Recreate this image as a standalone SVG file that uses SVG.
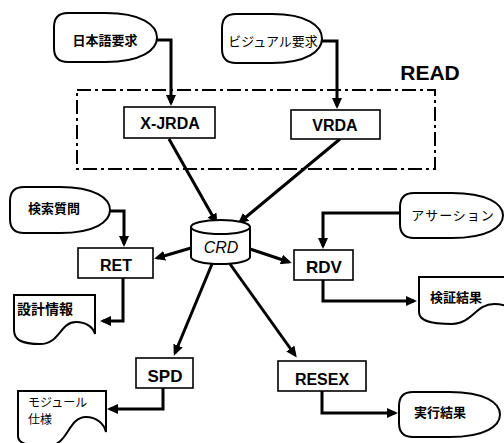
<svg xmlns="http://www.w3.org/2000/svg" width="504" height="443" viewBox="0 0 504 443">
<style>
.bg{fill:#fff}
.shape{fill:#fff;stroke:#000;stroke-width:2}
.box{fill:#fff;stroke:#000;stroke-width:1.6}
.con{fill:none;stroke:#000;stroke-width:3;stroke-linejoin:miter}
.lbl{font-family:"Liberation Sans",Arial,sans-serif;font-weight:700;font-size:16px;text-anchor:middle;fill:#000}
.jp{font-family:"Noto Sans CJK JP",sans-serif;font-size:13px;fill:#000}
.jpb{font-family:"Noto Sans CJK JP",sans-serif;font-size:13px;font-weight:700;fill:#000}
.dash{fill:none;stroke:#000;stroke-width:2;stroke-dasharray:14 4 3 4}
</style>
<defs>
<marker id="ah" markerUnits="userSpaceOnUse" markerWidth="11" markerHeight="10" refX="8" refY="5" orient="auto">
<path d="M0,0 L11,5 L0,10 Z" fill="#000"/>
</marker>
</defs>
<rect class="bg" x="0" y="0" width="504" height="443"/>

<g id="read-group">
<rect class="dash" x="77" y="90" width="358" height="79"/>
<text class="lbl" x="430" y="80" style="font-size:21px">READ</text>
</g>

<g id="connectors">
<polyline class="con" points="157,40 171,40 171,103" marker-end="url(#ah)"/>
<polyline class="con" points="322,41 337,41 337,106" marker-end="url(#ah)"/>
<line class="con" x1="169" y1="139" x2="216" y2="222" marker-end="url(#ah)"/>
<line class="con" x1="340" y1="139" x2="240" y2="222" marker-end="url(#ah)"/>
<polyline class="con" points="110,211 124,211 124,244" marker-end="url(#ah)"/>
<polyline class="con" points="400,213 323,213 323,246" marker-end="url(#ah)"/>
<line class="con" x1="191" y1="248" x2="157" y2="258" marker-end="url(#ah)"/>
<line class="con" x1="250" y1="249" x2="289" y2="262" marker-end="url(#ah)"/>
<line class="con" x1="212" y1="264" x2="175" y2="353" marker-end="url(#ah)"/>
<line class="con" x1="230" y1="264" x2="295" y2="355" marker-end="url(#ah)"/>
<polyline class="con" points="123,278 123,321 103,321" marker-end="url(#ah)"/>
<polyline class="con" points="323,280 323,301 414,301" marker-end="url(#ah)"/>
<polyline class="con" points="163,388 163,409 110,409" marker-end="url(#ah)"/>
<polyline class="con" points="322,391 322,413 395,413" marker-end="url(#ah)"/>
</g>

<g id="n-nihongo">
<path class="shape" d="M68,13 H105.5 C141.5,13 157,25 157,37.5 C157,50 141.5,62 105.5,62 H68 Q54,62 54,48 V27 Q54,13 68,13 Z"/>
<text class="jpb" x="105" y="45" text-anchor="middle">日本語要求</text>
</g>

<g id="n-visual">
<path class="shape" d="M236,14 H272 C307,14 322,26 322,38.5 C322,51 307,63 272,63 H236 Q222,63 222,49 V28 Q222,14 236,14 Z"/>
<text class="jp" x="273" y="46" text-anchor="middle">ビジュアル要求</text>
</g>

<g id="n-xjrda">
<rect class="box" x="124" y="107" width="91" height="31"/>
<text class="lbl" x="170" y="129">X-JRDA</text>
</g>

<g id="n-vrda">
<rect class="box" x="291" y="110" width="89" height="29"/>
<text class="lbl" x="335" y="131">VRDA</text>
</g>

<g id="n-crd">
<path class="shape" d="M191,227 V257 A29.5,7 0 0 0 250,257 V227 Z"/>
<ellipse class="shape" cx="220.5" cy="227" rx="29.5" ry="7"/>
<text x="221" y="253" style="font-family:'Liberation Sans',Arial,sans-serif;font-style:italic;font-size:16px;text-anchor:middle">CRD</text>
</g>

<g id="n-kensaku">
<path class="shape" d="M24,187 H60 C95,187 110,198.5 110,210 C110,221.5 95,233 60,233 H24 Q10,233 10,219 V201 Q10,187 24,187 Z"/>
<text class="jpb" x="54" y="213" text-anchor="middle">検索質問</text>
</g>

<g id="n-assertion">
<path class="shape" d="M414,193 H451.5 C487.5,193 503,204 503,215.5 C503,227 487.5,238 451.5,238 H414 Q400,238 400,224 V207 Q400,193 414,193 Z"/>
<text class="jp" x="453" y="220" text-anchor="middle" letter-spacing="1">アサーション</text>
</g>

<g id="n-ret">
<rect class="box" x="78" y="248" width="75" height="30"/>
<text class="lbl" x="116" y="271">RET</text>
</g>

<g id="n-rdv">
<rect class="box" x="294" y="250" width="59" height="30"/>
<text class="lbl" x="324" y="273" style="font-size:17px">RDV</text>
</g>

<g id="n-sekkei">
<path class="shape" d="M14,295 H95 V334 C93,327 86,322 76,322 C60,322 60,344 40,344 C22,344 14,340 14,330 Z"/>
<text class="jpb" x="17" y="314" style="font-size:14px">設計情報</text>
</g>

<g id="n-kensho">
<path class="shape" d="M419,277 H524 V316 C516,309 505,304 494,304 C476,304 472,324 452,324 C428,324 419,320 419,312 Z"/>
<text class="jpb" x="430" y="302">検証結果</text>
</g>

<g id="n-spd">
<rect class="box" x="136" y="358" width="57" height="30"/>
<text class="lbl" x="165" y="382" style="font-size:17px">SPD</text>
</g>

<g id="n-resex">
<rect class="box" x="278" y="361" width="88" height="30"/>
<text class="lbl" x="322" y="385">RESEX</text>
</g>

<g id="n-module">
<path class="shape" d="M18,391 H106 V432 C104,424 97,417 86,417 C68,417 68,446 48,446 C28,446 18,444 18,436 Z"/>
<text class="jp" x="28" y="407" style="font-size:12px">モジュール</text>
<text class="jp" x="28" y="424" style="font-size:12px">仕様</text>
</g>

<g id="n-jikko">
<path class="shape" d="M413,392 H449.5 C485,392 500,403 500,414.5 C500,426 485,437 449.5,437 H413 Q399,437 399,423 V406 Q399,392 413,392 Z"/>
<text class="jpb" x="440" y="417" text-anchor="middle">実行結果</text>
</g>
</svg>
